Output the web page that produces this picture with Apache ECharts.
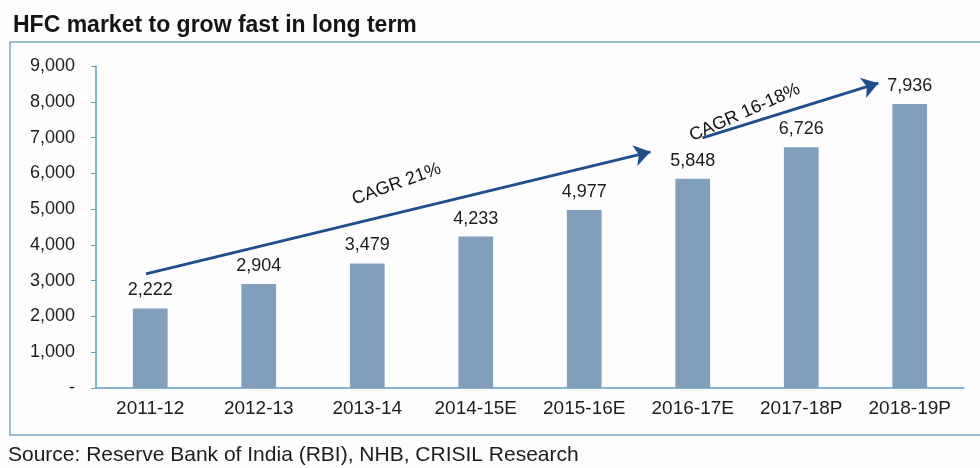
<!DOCTYPE html>
<html>
<head>
<meta charset="utf-8">
<script src="https://cdn.jsdelivr.net/npm/echarts@6/dist/echarts.min.js"></script>
<style>
  html, body { margin: 0; padding: 0; background: #fdfdfe; }
  #chart { width: 980px; height: 468px; }
</style>
</head>
<body>
<div id="chart"></div>
<script>
// data
var categories = ['2011-12', '2012-13', '2013-14', '2014-15E', '2015-16E', '2016-17E', '2017-18P', '2018-19P'];
var values = [2222, 2904, 3479, 4233, 4977, 5848, 6726, 7936];
var yTicks = { min: 0, max: 9000, interval: 1000 };

// CAGR arrows, in data coords (x = category index, y = value)
var arrowStarts = [[-0.04, 3190], [5.09, 6990]];
var arrowEnds = [[4.61, 6600], [6.71, 8520]];
var cagrLabels = ['CAGR 21%', 'CAGR 16-18%'];
var cagrLabelPos = [[2.27, 5700], [5.48, 7700]];
var cagrLabelRotate = [20, 24];

var font = '"Liberation Sans", Arial, sans-serif';
var textColor = '#1c1c1c';
var chart = echarts.init(document.getElementById('chart'));

var markLines = arrowStarts.map(function (s, i) {
  return [{ coord: s }, { coord: arrowEnds[i] }];
});
var labelPoints = cagrLabels.map(function (t, i) {
  return { name: t, value: cagrLabelPos[i], label: { rotate: cagrLabelRotate[i] } };
});

chart.setOption({
  backgroundColor: '#fdfdfe',
  animation: false,
  title: {
    text: 'HFC market to grow fast in long term',
    left: 8,
    top: 9,
    textStyle: { fontFamily: font, fontSize: 23, fontWeight: 'bold', color: '#141414' }
  },
  graphic: [
    {
      type: 'rect',
      shape: { x: 10, y: 42, width: 990, height: 393 },
      style: { fill: 'none', stroke: '#7fa9bf', lineWidth: 1.5 }
    },
    {
      type: 'text',
      left: 8,
      top: 445,
      style: {
        text: 'Source: Reserve Bank of India (RBI), NHB, CRISIL Research',
        font: '21px ' + font,
        fill: textColor
      }
    }
  ],
  grid: { left: 96, right: 16, top: 66, bottom: 80 },
  xAxis: [
    {
      type: 'category',
      data: categories,
      axisLine: { lineStyle: { color: '#5e9fc2', width: 1.5 } },
      axisTick: { show: false },
      axisLabel: { fontFamily: font, fontSize: 19, color: textColor, margin: 11 }
    },
    { type: 'value', min: -0.5, max: 7.5, show: false }
  ],
  yAxis: {
    type: 'value',
    min: yTicks.min,
    max: yTicks.max,
    interval: yTicks.interval,
    splitLine: { show: false },
    axisLine: { show: true, onZero: false, lineStyle: { color: '#5e9fc2', width: 1.5 } },
    axisTick: { show: true, length: 5, lineStyle: { color: '#5e9fc2' } },
    axisLabel: {
      fontFamily: font, fontSize: 18, color: textColor, margin: 21,
      formatter: function (v) { return v === 0 ? '-' : v.toLocaleString('en-US'); }
    }
  },
  series: [
    {
      type: 'bar',
      data: values,
      barWidth: '32%',
      itemStyle: { color: '#819fbd' },
      label: {
        show: true, position: 'top', distance: 9,
        fontFamily: font, fontSize: 18, color: textColor,
        formatter: function (p) { return p.value.toLocaleString('en-US'); }
      }
    },
    {
      type: 'line',
      xAxisIndex: 1,
      data: [],
      markLine: {
        silent: true,
        symbol: ['none', 'arrow'],
        symbolSize: 16,
        label: { show: false },
        lineStyle: { color: '#1f4e8c', width: 3, type: 'solid' },
        data: markLines
      }
    },
    {
      type: 'scatter',
      xAxisIndex: 1,
      symbolSize: 0,
      silent: true,
      itemStyle: { opacity: 1 },
      data: labelPoints,
      label: {
        show: true, position: 'inside',
        fontFamily: font, fontSize: 18, color: '#111', opacity: 1,
        formatter: '{b}'
      }
    }
  ]
});
</script>
</body>
</html>
